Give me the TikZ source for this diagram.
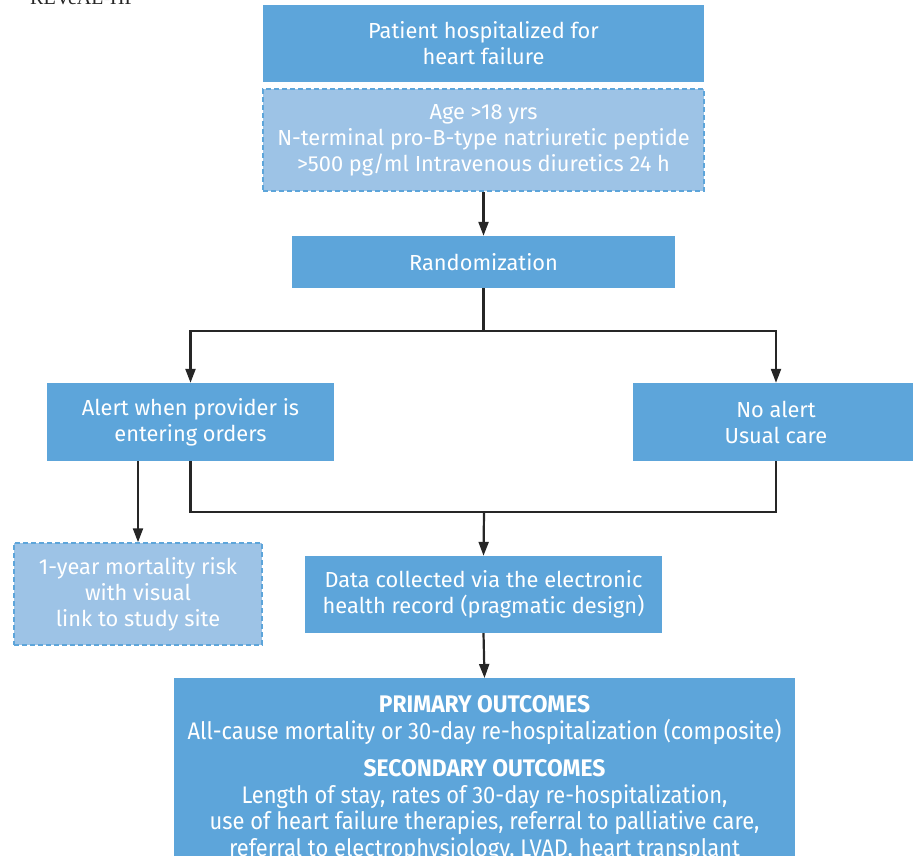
\documentclass[tikz,border=0pt]{standalone}
\usepackage{fontspec}
\setmainfont{Fira Sans}
\newfontfamily\serifhead{Liberation Serif}
\usetikzlibrary{arrows.meta,positioning}
\definecolor{boxblue}{HTML}{5DA5DA}
\definecolor{lightblue}{HTML}{9DC3E6}
\definecolor{linegray}{HTML}{262626}
\newcommand{\narrow}[2]{\scalebox{#1}[1]{#2}}
\tikzset{
  solidbox/.style={fill=boxblue, draw=none, text=white, align=center,
    inner sep=0pt, font=\fontsize{21.8}{26}\selectfont},
  dashbox/.style={fill=lightblue, draw=boxblue, dashed, dash pattern=on 5pt off 3pt,
    line width=1.5pt, text=white, align=center, inner sep=0pt,
    font=\fontsize{21.8}{26}\selectfont},
  link/.style={draw=linegray, line width=2.2pt},
  flow/.style={link, -{Triangle[length=14pt,width=10pt]}},
}
\begin{document}
\begin{tikzpicture}[x=1pt,y=-1pt]
\useasboundingbox (0,0) rectangle (913,855);

% running title, cut off by the page edge
\node[anchor=base west, inner sep=0pt, text=linegray,
  font=\serifhead\fontsize{20}{20}\selectfont] (title) at (30,4) {REVeAL-HF};

% flow boxes
\node[solidbox, minimum width=441pt, minimum height=77pt] (adm) at (483.5,43.5)
  {Patient hospitalized for\\heart failure};
\node[dashbox, minimum width=441pt, minimum height=102pt] (incl) at (483.5,140)
  {Age >18 yrs\\N-terminal pro-B-type natriuretic peptide\\>500 pg/ml Intravenous diuretics 24 h};
\node[solidbox, minimum width=383pt, minimum height=52pt] (rand) at (483.5,262)
  {Randomization};
\node[solidbox, minimum width=287pt, minimum height=78pt] (alert) at (190.5,422)
  {Alert when provider is\\entering orders};
\node[solidbox, minimum width=286pt, minimum height=78pt] (noalert) at (776,422)
  {No alert\\Usual care};
\node[dashbox, minimum width=248pt, minimum height=102pt] (risk) at (138,594)
  {1-year mortality risk\\with visual\\link to study site};
\node[solidbox, minimum width=357pt, minimum height=77pt] (ehr) at (483.5,594.5)
  {Data collected via the electronic\\health record (pragmatic design)};
\node[solidbox, minimum width=621pt, minimum height=200pt, anchor=north] (out) at (484.5,678) {};
\node[text=white, align=center, inner sep=0pt, anchor=north,
  font=\fontsize{24}{26.5}\selectfont] (outtxt) at (484.5,695.5)
  {\narrow{0.95}{\textbf{PRIMARY OUTCOMES}}\\
   \narrow{0.913}{All-cause mortality or 30-day re-hospitalization (composite)}\\[11pt]
   \narrow{0.95}{\textbf{SECONDARY OUTCOMES}}\\
   \narrow{0.913}{Length of stay, rates of 30-day re-hospitalization,}\\
   \narrow{0.913}{use of heart failure therapies, referral to palliative care,}\\
   \narrow{0.913}{referral to electrophysiology, LVAD, heart transplant}};

% junctions of the connectors
\coordinate (split) at (rand.south |- 0,331);
\coordinate (merge) at (484,512);

% connectors
\draw[flow] (incl.south) -- (rand.north);
\draw[link] (rand.south) -- (split);
\draw[flow] (split) -| (alert.north);
\draw[flow] (split) -| (noalert.north);
\draw[flow] (alert.south -| risk.north) -- (risk.north);
\draw[link] (alert.south) |- (merge) -| (noalert.south);
\draw[flow] (merge) -- (ehr.north);
\draw[flow] (ehr.south) -- (out.north);
\end{tikzpicture}
\end{document}
